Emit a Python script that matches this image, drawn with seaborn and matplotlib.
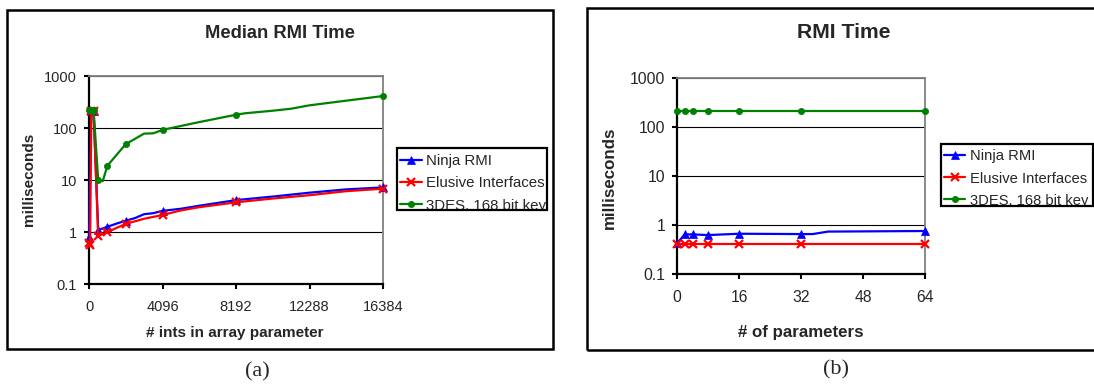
import matplotlib
matplotlib.use("Agg")
import matplotlib.pyplot as plt
from matplotlib.patches import Rectangle
import seaborn as sns
import pandas as pd

# ─────────────────────────────────────────────
# DATI
# ─────────────────────────────────────────────
SERIES = ["Ninja RMI", "Elusive Interfaces", "3DES, 168 bit key"]

# (a) Median RMI Time vs # ints in array parameter
NINJA_A_X = [0, 128, 256, 512, 1024, 1536, 2048, 2560, 3072, 3584, 4096, 5120, 6144,
             8192, 10240, 12288, 14336, 16384]
NINJA_A_Y = [0.79, 210, 210, 1.09, 1.26, 1.45, 1.65, 1.85, 2.2, 2.3, 2.55, 2.8, 3.2,
             4.1, 4.8, 5.7, 6.6, 7.2]
ELUSIVE_A_X = [0, 64, 128, 256, 512, 1024, 1536, 2048, 3072, 4096, 5120, 6144,
               8192, 10240, 12288, 14336, 16384]
ELUSIVE_A_Y = [0.61, 0.56, 210, 210, 0.84, 0.99, 1.2, 1.43, 1.8, 2.12, 2.6, 3.0,
               3.72, 4.4, 5.1, 6.1, 6.8]
DES_A_X = [0, 128, 256, 512, 768, 1024, 2048, 3072, 3584, 4096, 6144, 8192, 8704,
           10240, 11264, 12288, 16384]
DES_A_Y = [222, 222, 222, 10, 9.5, 18.8, 49, 78, 79, 92, 130, 180, 192,
           215, 235, 273, 412]
MARKS_A = [0, 64, 128, 256, 512, 1024, 2048, 4096, 8192, 16384]
XTICKS_A = [0, 4096, 8192, 12288, 16384]

# (b) RMI Time vs # of parameters
NINJA_B_X = [0, 2, 4, 8, 16, 32, 35, 39, 64]
NINJA_B_Y = [0.42, 0.64, 0.64, 0.62, 0.66, 0.65, 0.65, 0.73, 0.75]
ELUSIVE_B_X = [0, 2, 4, 8, 16, 32, 64]
ELUSIVE_B_Y = [0.41, 0.41, 0.41, 0.41, 0.41, 0.41, 0.41]
DES_B_X = [0, 2, 4, 8, 16, 32, 64]
DES_B_Y = [205, 205, 205, 205, 205, 205, 205]
MARKS_B = [0, 2, 4, 8, 16, 32, 64]
XTICKS_B = [0, 16, 32, 48, 64]

YTICKS = [0.1, 1, 10, 100, 1000]
YTICKLABELS = ["0.1", "1", "10", "100", "1000"]

# ─────────────────────────────────────────────
# STILE
# ─────────────────────────────────────────────
W, H = 1094, 386
sns.set_style("white")
plt.rcParams["font.family"] = ["Liberation Sans", "DejaVu Sans"]

STYLES = {
    "Ninja RMI":          dict(color="#0000FF", marker="^", markersize=5.5, mew=0.5),
    "Elusive Interfaces": dict(color="#FF0000", marker="x", markersize=6, mew=1.6),
    "3DES, 168 bit key":  dict(color="#008000", marker="o", markersize=4.5, mew=0.5),
}


def fx(px):
    return px / W


def fy(py):
    return 1 - py / H


def draw_panel(fig, box, data, marks, xticks, xlim, title, xlabel, fs, title_pos,
               ylabel_pos, xlabel_pos, leg_box):
    left, top, right, bottom = box
    ax = fig.add_axes([fx(left), fy(bottom), fx(right) - fx(left), fy(top) - fy(bottom)])

    for name, (xs, ys) in zip(SERIES, data):
        df = pd.DataFrame({"x": xs, "y": ys})
        idx = [i for i, v in enumerate(xs) if v in marks]
        st = STYLES[name]
        sns.lineplot(data=df, x="x", y="y", ax=ax, label=name, color=st["color"],
                     marker=st["marker"], markersize=st["markersize"],
                     markeredgewidth=st["mew"], markeredgecolor=st["color"],
                     markevery=idx, linewidth=1.6, errorbar=None, clip_on=False,
                     zorder=3)

    ax.set_yscale("log")
    ax.set_ylim(0.1, 1000)
    ax.set_yticks(YTICKS)
    ax.set_yticklabels(YTICKLABELS)
    ax.minorticks_off()
    ax.set_xlim(*xlim)
    ax.set_xticks(xticks)
    ax.set_xticklabels([str(t) for t in xticks])
    ax.set_xlabel("")
    ax.set_ylabel("")
    ax.grid(axis="y", color="black", linewidth=0.8)
    ax.grid(axis="x", visible=False)
    ax.tick_params(axis="both", which="major", direction="out", length=3.5, width=1.5,
                   color="black", labelsize=fs["tick"], pad=5, bottom=True, left=True)
    ax.tick_params(axis="x", pad=8)
    for s in ["left", "bottom"]:
        ax.spines[s].set_color("black")
        ax.spines[s].set_linewidth(1.6)
    for s in ["top", "right"]:
        ax.spines[s].set_color("#808080")
        ax.spines[s].set_linewidth(1.3)

    # Titoli ed etichette (posizionati in pixel come nel riferimento)
    fig.text(fx(title_pos[0]), fy(title_pos[1]), title, ha="center", va="center",
             fontsize=fs["title"], fontweight="bold")
    fig.text(fx(ylabel_pos[0]), fy(ylabel_pos[1]), "milliseconds", ha="center",
             va="center", rotation=90, fontsize=fs["label"], fontweight="bold")
    fig.text(fx(xlabel_pos[0]), fy(xlabel_pos[1]), xlabel, ha="center", va="center",
             fontsize=fs["label"], fontweight="bold")

    # Legenda: ultima riga tagliata dalla cornice, come nel riferimento
    lx0, ly0, lx1, ly1 = leg_box
    ax.legend(loc="upper left", bbox_to_anchor=(fx(lx0), fy(ly0 + 3)),
              bbox_transform=fig.transFigure, frameon=False, fontsize=fs["legend"],
              handlelength=1.45, handletextpad=0.3, labelspacing=0.55,
              borderpad=0.2, borderaxespad=0)
    fig.add_artist(Rectangle((fx(lx0 - 2), fy(ly1 + 14)), fx(lx1 - lx0 + 4), 14 / H,
                             transform=fig.transFigure, facecolor="white",
                             edgecolor="none", zorder=5))
    fig.add_artist(Rectangle((fx(lx0), fy(ly1)), fx(lx1 - lx0), (ly1 - ly0) / H,
                             transform=fig.transFigure, fill=False,
                             edgecolor="black", linewidth=1.6, zorder=6))
    return ax


fig = plt.figure(figsize=(W / 100, H / 100), dpi=100)

# cornici esterne
fig.add_artist(Rectangle((fx(7), fy(349)), fx(553 - 7), (349 - 10) / H,
                         transform=fig.transFigure, fill=False, edgecolor="black",
                         linewidth=1.8))
fig.add_artist(Rectangle((fx(587), fy(350)), fx(1120 - 587), (350 - 7.5) / H,
                         transform=fig.transFigure, fill=False, edgecolor="black",
                         linewidth=1.8))

draw_panel(fig, (89, 76, 383, 284),
           [(NINJA_A_X, NINJA_A_Y), (ELUSIVE_A_X, ELUSIVE_A_Y), (DES_A_X, DES_A_Y)],
           MARKS_A, XTICKS_A, (0, 16384), "Median RMI Time", "# ints in array parameter",
           dict(tick=10.5, label=11, title=13.2, legend=10.8),
           (280, 34), (29, 179), (235, 333), (397, 148, 547, 210))

draw_panel(fig, (677, 77.5, 925, 274),
           [(NINJA_B_X, NINJA_B_Y), (ELUSIVE_B_X, ELUSIVE_B_Y), (DES_B_X, DES_B_Y)],
           MARKS_B, XTICKS_B, (0, 64), "RMI Time", "# of parameters",
           dict(tick=11.3, label=12.2, title=15.2, legend=10.6),
           (844, 33), (609, 178), (801, 332), (941, 143.5, 1093, 206))

# didascalie
fig.text(fx(257), fy(372), "(a)", ha="center", va="center", fontsize=16,
         family="Liberation Serif")
fig.text(fx(836), fy(370), "(b)", ha="center", va="center", fontsize=16,
         family="Liberation Serif")

fig.savefig("out.png", dpi=100, facecolor="white")
